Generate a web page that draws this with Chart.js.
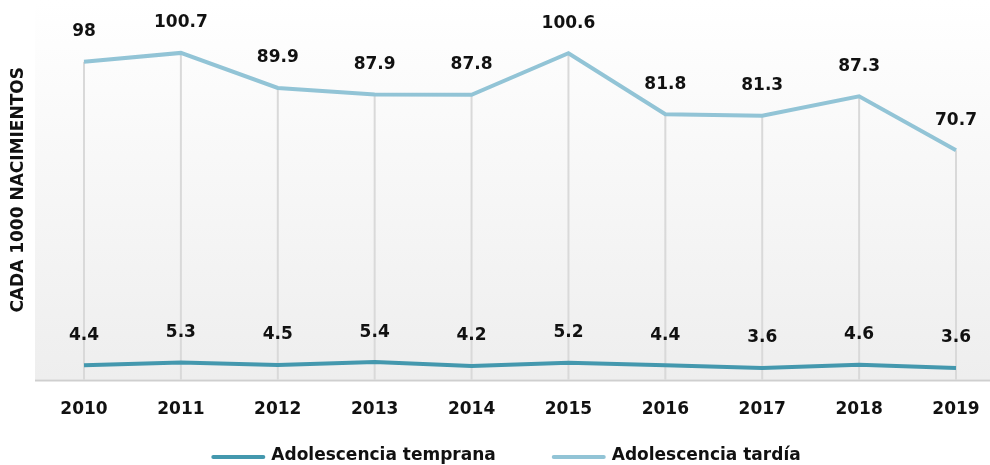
<!DOCTYPE html>
<html>
<head>
<meta charset="utf-8">
<script src="https://cdn.jsdelivr.net/npm/chart.js@4"></script>
<style>
  html, body { margin: 0; padding: 0; background: #ffffff; }
  #wrap { width: 990px; height: 465px; }
</style>
</head>
<body>
<div id="wrap"><canvas id="myChart" width="990" height="465"></canvas></div>
<script>
var years = ["2010", "2011", "2012", "2013", "2014", "2015", "2016", "2017", "2018", "2019"];
var temprana = [4.4, 5.3, 4.5, 5.4, 4.2, 5.2, 4.4, 3.6, 4.6, 3.6];
var tardia = [98, 100.7, 89.9, 87.9, 87.8, 100.6, 81.8, 81.3, 87.3, 70.7];

var FONT = "'DejaVu Sans', sans-serif";

// plot background gradient + drop lines from the top series
var backdrop = {
  id: 'backdrop',
  beforeDatasetsDraw: function (chart) {
    var c = chart.ctx, area = chart.chartArea;
    c.save();
    var g = c.createLinearGradient(0, 0, 0, area.bottom);
    g.addColorStop(0, '#ffffff');
    g.addColorStop(1, '#eeeeee');
    c.fillStyle = g;
    c.fillRect(35, 0, chart.width - 35, area.bottom);
    var xs = chart.scales.x, ys = chart.scales.y;
    c.strokeStyle = '#d9d9d9';
    c.lineWidth = 2;
    for (var i = 0; i < years.length; i++) {
      var x = xs.getPixelForValue(i);
      c.beginPath();
      c.moveTo(x, ys.getPixelForValue(tardia[i]));
      c.lineTo(x, area.bottom);
      c.stroke();
    }
    c.strokeStyle = '#cfcfcf';
    c.beginPath();
    c.moveTo(35, area.bottom + 1);
    c.lineTo(chart.width, area.bottom + 1);
    c.stroke();
    c.restore();
  }
};

var valueLabels = {
  id: 'valueLabels',
  afterDatasetsDraw: function (chart) {
    var c = chart.ctx;
    c.save();
    c.font = 'bold 17px ' + FONT;
    c.fillStyle = '#111111';
    c.textAlign = 'center';
    c.textBaseline = 'middle';
    chart.data.datasets.forEach(function (ds, di) {
      var meta = chart.getDatasetMeta(di);
      meta.data.forEach(function (pt, i) {
        c.fillText(String(ds.data[i]), pt.x, pt.y - 30);
      });
    });
    c.restore();
  }
};

// legend drawn by hand so the wide gap between entries can be kept
var lineLegend = {
  id: 'lineLegend',
  afterDraw: function (chart) {
    var c = chart.ctx;
    var lineW = 54, gapText = 6, gapItem = 56, y = 456;
    c.save();
    c.font = 'bold 17px ' + FONT;
    var sets = chart.data.datasets;
    var total = 0;
    sets.forEach(function (ds, i) {
      total += lineW + gapText + c.measureText(ds.label).width;
      if (i < sets.length - 1) total += gapItem;
    });
    var x = chart.width / 2 - total / 2 + 11;
    c.textBaseline = 'middle';
    c.textAlign = 'left';
    sets.forEach(function (ds) {
      c.strokeStyle = ds.borderColor;
      c.lineWidth = 4;
      c.lineCap = 'round';
      c.beginPath();
      c.moveTo(x + 2, y + 1);
      c.lineTo(x + lineW - 2, y + 1);
      c.stroke();
      x += lineW + gapText;
      c.fillStyle = '#111111';
      c.fillText(ds.label, x, y);
      x += c.measureText(ds.label).width + gapItem;
    });
    c.restore();
  }
};

var ctx = document.getElementById('myChart').getContext('2d');

var myChart = new Chart(ctx, {
  type: 'line',
  data: {
    labels: years,
    datasets: [{
      label: 'Adolescencia temprana',
      data: temprana,
      borderColor: '#4498ae',
      backgroundColor: '#4498ae',
      borderWidth: 4,
      pointRadius: 0,
      tension: 0
    }, {
      label: 'Adolescencia tardía',
      data: tardia,
      borderColor: '#92c4d6',
      backgroundColor: '#92c4d6',
      borderWidth: 4,
      pointRadius: 0,
      tension: 0
    }]
  },
  options: {
    responsive: false,
    animation: false,
    layout: { padding: { left: 0, right: 34, top: 0, bottom: 25 } },
    plugins: {
      legend: { display: false },
      tooltip: { enabled: false }
    },
    scales: {
      x: {
        offset: false,
        grid: { display: false, drawTicks: false },
        border: { display: false },
        ticks: {
          padding: 20,
          color: '#111111',
          font: { family: FONT, size: 17, weight: 'bold' },
          maxRotation: 0
        },
        afterFit: function (scale) { scale.paddingLeft = 0; scale.paddingRight = 0; }
      },
      y: {
        min: 0,
        max: 117,
        grid: { display: false, drawTicks: false },
        border: { display: false },
        ticks: { display: false },
        title: {
          display: true,
          text: 'CADA 1000 NACIMIENTOS',
          color: '#111111',
          padding: { top: 8, bottom: 0 },
          font: { family: FONT, size: 17, weight: 'bold' }
        },
        afterFit: function (scale) { scale.width = 84; }
      }
    }
  },
  plugins: [backdrop, valueLabels, lineLegend]
});
</script>
</body>
</html>
